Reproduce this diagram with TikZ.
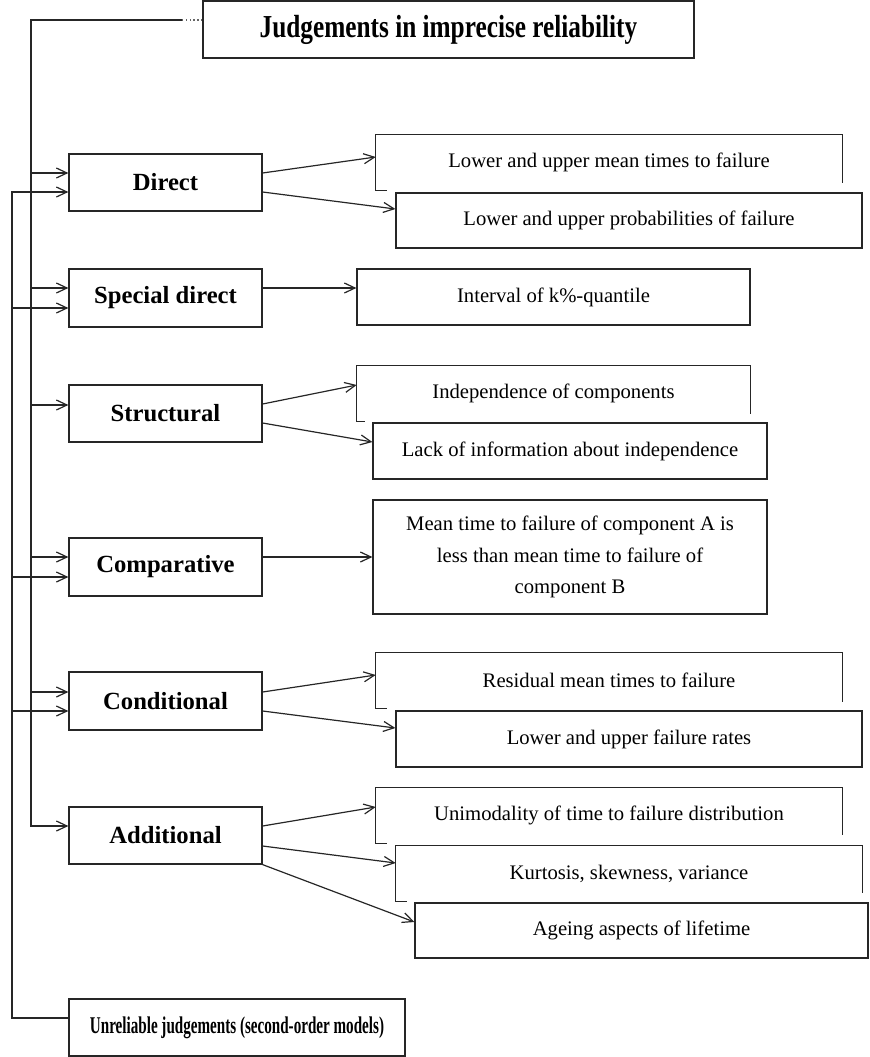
\documentclass[tikz,border=0pt]{standalone}
\usepackage{fontspec}
\setmainfont{Liberation Serif}
\newfontfamily\titlefont{Liberation Serif}[FakeStretch=0.79]
\newfontfamily\unrelfont{Liberation Serif}[FakeStretch=0.63]
\usetikzlibrary{arrows.meta}
\begin{document}
\begin{tikzpicture}[x=0.75pt,y=-0.75pt,
  ln/.style={line width=0.9pt, draw=black!85},
  arr/.style={ln, -{Straight Barb[length=8pt,width=7.5pt]}},
  box/.style={ln, draw, inner sep=0pt, fill=white},
  lbox/.style={box, minimum width=144.75pt, minimum height=42.75pt, font=\fontsize{18.5}{22}\selectfont\bfseries},
  rtext/.style={inner sep=0pt, minimum width=349.5pt, minimum height=41.25pt, font=\fontsize{15.5}{19}\selectfont},
  rbox/.style={box, rtext},
]
\useasboundingbox (0,0) rectangle (869,1057);

% title
\node[box, minimum width=368.25pt, minimum height=42.75pt, font=\titlefont\fontsize{24}{28}\selectfont\bfseries] (title) at (448.5,29.5) {Judgements in imprecise reliability};

% left boxes
\node[lbox] (direct) at (165.5,182.5) {Direct};
\node[lbox, minimum height=43.5pt] (special) at (165.5,298) {Special direct};
\node[lbox] (structural) at (165.5,413.5) {Structural};
\node[lbox, minimum height=43.5pt] (comparative) at (165.5,567) {Comparative};
\node[lbox, minimum height=43.5pt] (conditional) at (165.5,701) {Conditional};
\node[lbox] (additional) at (165.5,835.5) {Additional};
\node[box, minimum width=252pt, minimum height=42.75pt, font=\unrelfont\fontsize{18}{22}\selectfont\bfseries] (unrel) at (237,1027.5) {Unreliable judgements (second-order models)};

% right boxes: Direct
\node[rtext] (a1) at (609,162.5) {Lower and upper mean times to failure};
\draw[ln] ([xshift=8.25pt]a1.south west) -- (a1.south west) -- (a1.north west) -- (a1.north east) -- ([yshift=5.25pt]a1.south east);
\node[rbox] (a2) at (629,220.5) {Lower and upper probabilities of failure};

% Special direct
\node[rbox, minimum width=294.75pt, minimum height=42pt] (iq) at (553.5,297) {Interval of k\%-quantile};

% Structural
\node[rtext, minimum width=294.75pt] (b1) at (553.5,393.5) {Independence of components};
\draw[ln] ([xshift=6pt]b1.south west) -- (b1.south west) -- (b1.north west) -- (b1.north east) -- ([yshift=5.25pt]b1.south east);
\node[rbox, minimum width=295.5pt, minimum height=42pt] (b2) at (570,451) {Lack of information about independence};

% Comparative
\node[rbox, minimum width=295.5pt, minimum height=85.5pt, align=center, font=\fontsize{15.5}{23.6}\selectfont] (cmp) at (570,557) {Mean time to failure of component A is\\less than mean time to failure of\\component B};

% Conditional
\node[rtext] (d1) at (609,680.5) {Residual mean times to failure};
\draw[ln] ([xshift=8.25pt]d1.south west) -- (d1.south west) -- (d1.north west) -- (d1.north east) -- ([yshift=4.5pt]d1.south east);
\node[rbox, minimum height=42pt] (d2) at (629,739) {Lower and upper failure rates};

% Additional
\node[rtext] (e1) at (609,815.5) {Unimodality of time to failure distribution};
\draw[ln] ([xshift=8.25pt]e1.south west) -- (e1.south west) -- (e1.north west) -- (e1.north east) -- ([yshift=6pt]e1.south east);
\node[rtext] (e2) at (629,873.5) {Kurtosis, skewness, variance};
\draw[ln] ([xshift=8.25pt]e2.south west) -- (e2.south west) -- (e2.north west) -- (e2.north east) -- ([yshift=6pt]e2.south east);
\node[rbox, minimum width=339.75pt] (e3) at (641.5,930.5) {Ageing aspects of lifetime};

% coordinates on the left sides of the left boxes
\coordinate (dirA) at ([yshift=7.125pt]direct.west);
\coordinate (dirB) at ([yshift=-7.125pt]direct.west);
\coordinate (spA) at ([yshift=7.5pt]special.west);
\coordinate (spB) at ([yshift=-7.5pt]special.west);
\coordinate (stA) at ([yshift=6.375pt]structural.west);
\coordinate (coA) at ([yshift=7.5pt]comparative.west);
\coordinate (coB) at ([yshift=-7.5pt]comparative.west);
\coordinate (cnA) at ([yshift=6.75pt]conditional.west);
\coordinate (cnB) at ([yshift=-7.5pt]conditional.west);
\coordinate (adA) at ([yshift=7.125pt]additional.west);
\coordinate (unA) at ([yshift=7.125pt]unrel.west);

% trunks
\coordinate (tA) at (31,20);
\coordinate (dotend) at (182,20);
\coordinate (tB) at (12,192);
\draw[ln, dotted, draw=black!60] ([yshift=7.125pt]title.west) -- (dotend);
\draw[arr] (dotend) -- (tA) |- (adA);
\draw[arr] (unA) -| (tB) -- (dirB);

\draw[arr] (tA |- dirA) -- (dirA);
\draw[arr] (tA |- spA) -- (spA);
\draw[arr] (tB |- spB) -- (spB);
\draw[arr] (tA |- stA) -- (stA);
\draw[arr] (tA |- coA) -- (coA);
\draw[arr] (tB |- coB) -- (coB);
\draw[arr] (tA |- cnA) -- (cnA);
\draw[arr] (tB |- cnB) -- (cnB);

% connectors to the right boxes
\draw[arr] ([yshift=7.125pt]direct.east) -- ([yshift=4.125pt]a1.west);
\draw[arr] ([yshift=-7.125pt]direct.east) -- ([yshift=8.625pt]a2.west);
\draw[arr] ([yshift=7.5pt]special.east) -- ([yshift=6.75pt]iq.west);
\draw[arr] ([yshift=7.125pt]structural.east) -- ([yshift=6.375pt]b1.west);
\draw[arr] ([yshift=-7.125pt]structural.east) -- ([yshift=6.75pt]b2.west);
\draw[arr] ([yshift=7.5pt]comparative.east) -- (cmp.west);
\draw[arr] ([yshift=6.75pt]conditional.east) -- ([yshift=4.125pt]d1.west);
\draw[arr] ([yshift=-7.5pt]conditional.east) -- ([yshift=8.25pt]d2.west);
\draw[arr] ([yshift=7.125pt]additional.east) -- ([yshift=6.375pt]e1.west);
\draw[arr] ([yshift=-7.875pt]additional.east) -- ([yshift=7.875pt]e2.west);
\draw[arr] (additional.south east) -- ([yshift=6.375pt]e3.west);
\end{tikzpicture}
\end{document}
